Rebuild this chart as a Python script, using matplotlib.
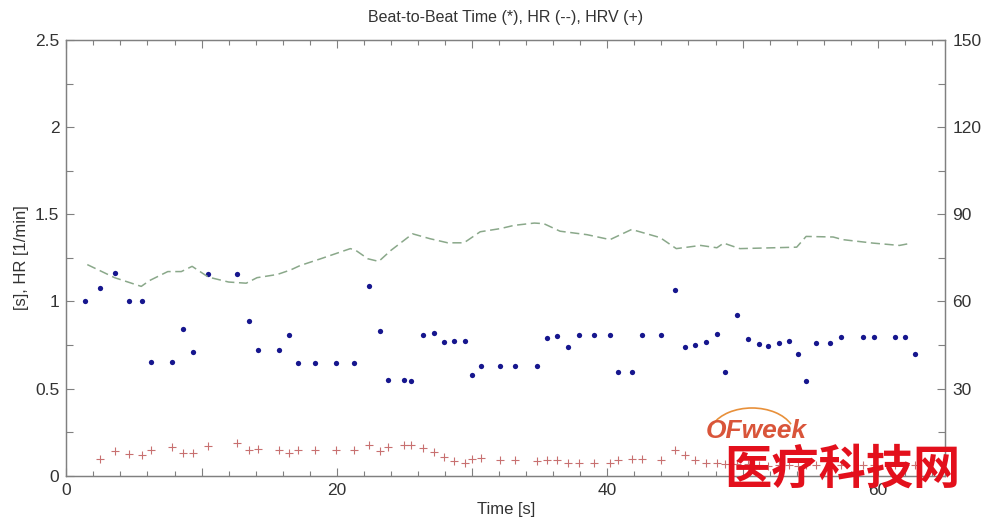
import matplotlib
matplotlib.use("Agg")
import matplotlib.pyplot as plt
from matplotlib.ticker import MultipleLocator, FixedLocator
from matplotlib.patches import Arc

plt.rcParams['font.family'] = ['Liberation Sans', 'DejaVu Sans']

# ---- data ----
beat_time = [1.35, 2.49, 3.62, 4.62, 5.61, 6.27, 7.8, 8.63, 9.37, 10.5,
             12.6, 13.5, 14.2, 15.7, 16.5, 17.1, 18.4, 19.95, 21.3, 22.4,
             23.2, 23.8, 25.0, 25.5, 26.4, 27.2, 27.9, 28.7, 29.5, 30.0,
             30.65, 32.1, 33.2, 34.8, 35.55, 36.3, 37.1, 37.9, 39.0, 40.2,
             40.8, 41.8, 42.6, 44.0, 45.0, 45.75, 46.5, 47.3, 48.1, 48.7,
             49.6, 50.4, 51.2, 51.9, 52.7, 53.4, 54.1, 54.7, 55.4, 56.5,
             57.3, 58.9, 59.7, 61.3, 62.0, 62.75]
beat_interval = [1.00, 1.08, 1.165, 1.0, 1.0, 0.655, 0.655, 0.84, 0.71, 1.16,
                 1.16, 0.89, 0.724, 0.724, 0.81, 0.647, 0.647, 0.647, 0.647, 1.09,
                 0.828, 0.55, 0.55, 0.546, 0.806, 0.82, 0.77, 0.774, 0.774, 0.579,
                 0.628, 0.628, 0.628, 0.628, 0.79, 0.80, 0.737, 0.806, 0.806, 0.806,
                 0.594, 0.594, 0.806, 0.806, 1.067, 0.737, 0.749, 0.77, 0.812, 0.594,
                 0.925, 0.787, 0.757, 0.745, 0.76, 0.774, 0.699, 0.546, 0.76, 0.76,
                 0.795, 0.795, 0.795, 0.795, 0.795, 0.699]
hrv_time = beat_time[1:]
hrv_values = [0.096, 0.14, 0.126, 0.117, 0.148, 0.167, 0.128, 0.132, 0.172, 0.19,
              0.149, 0.155, 0.149, 0.13, 0.148, 0.149, 0.149, 0.148, 0.178, 0.14,
              0.163, 0.176, 0.176, 0.159, 0.134, 0.109, 0.086, 0.071, 0.096, 0.10,
              0.092, 0.092, 0.086, 0.09, 0.09, 0.073, 0.073, 0.073, 0.073, 0.092,
              0.096, 0.096, 0.092, 0.148, 0.119, 0.092, 0.073, 0.073,
              0.065, 0.07, 0.068, 0.06, 0.058, 0.06, 0.06, 0.058, 0.062, 0.06,
              0.06, 0.062, 0.063, 0.063, 0.063, 0.063, 0.063]
hr_time = [1.55, 3.57, 5.54, 6.15, 7.5, 8.5, 9.3, 10.5, 12.0, 13.3, 14.1, 15.6,
           16.6, 17.3, 18.8, 21.0, 21.4, 22.3, 23.1, 24.0, 25.6, 26.9, 28.2,
           29.4, 30.6, 32.1, 33.1, 34.6, 35.3, 36.5, 38.5, 40.2, 41.8, 43.9,
           45.1, 46.9, 48.1, 48.6, 49.1, 49.8, 54.0, 54.7, 56.7, 57.4, 59.65,
           61.6, 62.5]
hr_bpm = [72.7, 68.2, 65.2, 67.2, 70.3, 70.3, 72.1, 68.4, 66.7, 66.3, 68.2, 69.3,
          70.9, 72.4, 74.7, 78.2, 77.6, 74.7, 73.8, 77.6, 83.3, 81.6, 80.2,
          80.2, 84.0, 85.1, 86.2, 87.0, 86.8, 84.2, 83.0, 81.3, 84.8, 82.0,
          78.2, 79.3, 78.5, 80.1, 79.3, 78.2, 78.7, 82.4, 82.2, 81.3, 80.1,
          79.3, 80.1]
x_ticks = [0, 20, 40, 60]
y_left_ticks = [0, 0.5, 1, 1.5, 2, 2.5]
y_left_labels = ['0', '0.5', '1', '1.5', '2', '2.5']
y_right_ticks = [0, 30, 60, 90, 120, 150]
y_right_labels = ['', '30', '60', '90', '120', '150']  # "0" hidden by watermark in reference

title = "Beat-to-Beat Time (*), HR (--), HRV (+)"
xlabel = "Time [s]"
ylabel = "[s], HR [1/min]"

# ---- figure ----
fig = plt.figure(figsize=(9.9, 5.2), dpi=100)
ax = fig.add_axes([0.067, 0.085, 0.888, 0.838])
ax2 = ax.twinx()

spine_c = '#808080'
text_c = '#333333'

ax.plot(beat_time, beat_interval, linestyle='none', marker='o', ms=3.8,
        mew=0, color='#16168e', zorder=3)
ax.plot(hrv_time, hrv_values, linestyle='none', marker='+', ms=5.5,
        mew=0.8, color='#c87070', zorder=3)
ax2.plot(hr_time, hr_bpm, linestyle=(0, (6, 3)), lw=1.1, color='#8aa88a')

ax.set_xlim(0, 65)
ax.set_ylim(0, 2.5)
ax2.set_ylim(0, 150)

major_x = [0, 10, 20, 30, 40, 50, 60]
ax.xaxis.set_major_locator(FixedLocator(major_x))
ax.set_xticklabels([str(v) if v in x_ticks else '' for v in major_x])
ax.xaxis.set_minor_locator(MultipleLocator(2))
ax.set_yticks(y_left_ticks)
ax.set_yticklabels(y_left_labels)
ax.yaxis.set_minor_locator(MultipleLocator(0.25))
ax2.set_yticks(y_right_ticks)
ax2.set_yticklabels(y_right_labels)
ax2.yaxis.set_minor_locator(MultipleLocator(15))

for a in (ax, ax2):
    for s in a.spines.values():
        s.set_color(spine_c)
        s.set_linewidth(0.9)
ax.tick_params(which='both', direction='in', top=True, colors=spine_c,
               labelcolor=text_c, labelsize=12.5, width=0.8)
ax.tick_params(which='major', length=6, pad=5)
ax.tick_params(which='minor', length=3.5)
ax.tick_params(axis='y', which='minor', length=5)
ax2.tick_params(which='both', direction='in', colors=spine_c,
                labelcolor=text_c, labelsize=12.5, width=0.8)
ax2.tick_params(which='major', length=6, pad=5)
ax2.tick_params(which='minor', length=5)

ax.set_title(title, fontsize=11.5, color=text_c, pad=13)
ax.set_xlabel(xlabel, fontsize=12, color=text_c, labelpad=3)
ax.set_ylabel(ylabel, fontsize=12, color=text_c, labelpad=4)

# ---- watermark ----
fig.text(756 / 990, 1 - 431 / 520, "OFweek", fontsize=19, fontweight='bold',
         fontstyle='italic', color='#d9553a', ha='center', va='center')
arc = Arc((752 / 990, 1 - 436 / 520), 86 / 990, 56 / 520, theta1=30, theta2=150,
          transform=fig.transFigure, color='#e8903a', lw=1.2)
fig.add_artist(arc)
fig.text(842 / 990, 1 - 470 / 520, "医疗科技网", fontsize=34, fontweight='bold',
         color='#e3101c', ha='center', va='center',
         family=['Noto Sans CJK SC', 'DejaVu Sans'])

fig.savefig("out.png", dpi=100)
